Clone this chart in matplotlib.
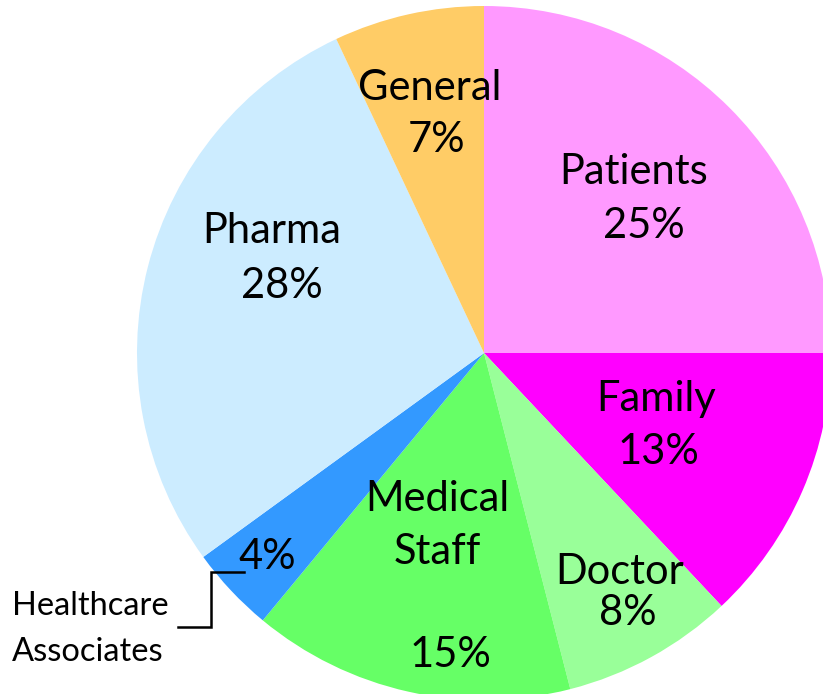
import matplotlib
matplotlib.use("Agg")
import matplotlib.pyplot as plt

# slices, clockwise from 12 o'clock
names = ["Patients", "Family", "Doctor", "Medical\nStaff", "Healthcare\nAssociates", "Pharma", "General"]
shares = [25, 13, 8, 15, 4, 28, 7]
colors = ["#FF99FF", "#FF00FF", "#99FF99", "#66FF66", "#3399FF", "#CCECFF", "#FFCC66"]

W, H = 823, 694
plt.rcParams["font.family"] = ["Lato", "DejaVu Sans"]

fig = plt.figure(figsize=(W / 100, H / 100), dpi=100)
ax = fig.add_axes([0, 0, 1, 1])

cx, cy, r = 484, 353, 347
# y axis is flipped below, so counterclock=True comes out clockwise on screen
ax.pie(shares, colors=colors, startangle=-90, counterclock=True,
       radius=r, center=(cx, cy), frame=True,
       wedgeprops=dict(linewidth=0))
ax.set_xlim(0, W)
ax.set_ylim(H, 0)
ax.set_aspect("equal")
ax.axis("off")

# label placement (image pixels): one (x, y) per name line, then percent position
name_pos = [[(634, 172)], [(656, 399)], [(620, 572)], [(437, 499), (437, 552)],
            None, [(272, 231)], [(430, 88)]]
pct_pos = [(644, 226), (658, 452), (628, 613), (450, 655), (267, 557), (282, 286), (437, 140)]

fs = 30
for i, (nm, s) in enumerate(zip(names, shares)):
    if name_pos[i] is not None:
        for line, xy in zip(nm.split("\n"), name_pos[i]):
            ax.text(*xy, line, ha="center", va="center", fontsize=fs)
    ax.text(*pct_pos[i], f"{s}%", ha="center", va="center", fontsize=fs)

# outside label for the small slice
for line, y in zip(names[4].split("\n"), [606, 652]):
    ax.text(12, y, line, ha="left", va="center", fontsize=23.5)
ax.plot([244, 211, 211, 178], [572, 572, 627, 627], color="black", lw=1.8,
        solid_joinstyle="miter")

fig.savefig("out.png", dpi=100)
